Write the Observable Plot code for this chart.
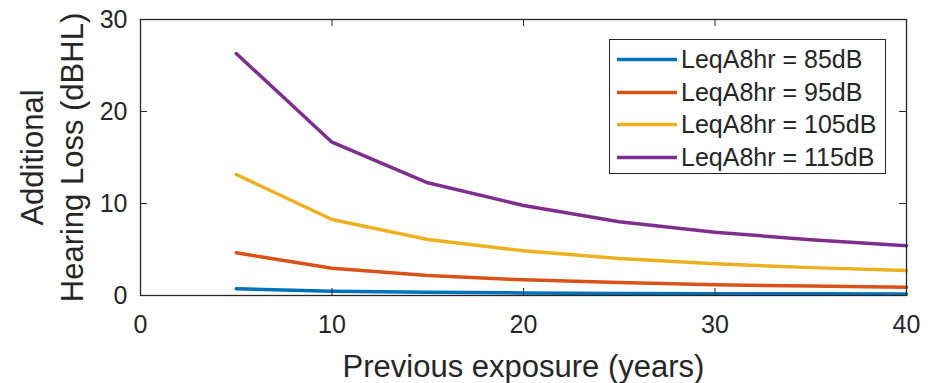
<!DOCTYPE html>
<html>
<head>
<meta charset="utf-8">
<script src="https://cdn.jsdelivr.net/npm/d3@7"></script>
<script src="https://cdn.jsdelivr.net/npm/@observablehq/plot@0.6"></script>
<style>
  body { margin: 0; background: #fff; }
  #wrap { position: relative; width: 932px; height: 383px; font-family: "Liberation Sans", Arial, Helvetica, sans-serif; }
  #legend { position: absolute; left: 609px; top: 39px; width: 277px; height: 135px; box-sizing: border-box;
            border: 1px solid #262626; background: #fff; }
  .row { position: absolute; left: 0; height: 32px; line-height: 32px; font-size: 25px; color: #262626; white-space: nowrap; }
  .row svg { position: absolute; left: 6px; top: 14px; }
  .row span { position: absolute; left: 71px; }
</style>
</head>
<body>
<div id="wrap"></div>
<script>
const years = [5, 10, 15, 20, 25, 30, 35, 40];
const loss85 = [0.73, 0.47, 0.35, 0.28, 0.23, 0.20, 0.18, 0.17];
const loss95 = [4.64, 2.97, 2.17, 1.70, 1.40, 1.17, 1.02, 0.90];
const loss105 = [13.15, 8.26, 6.09, 4.86, 4.02, 3.44, 3.03, 2.72];
const loss115 = [26.3, 16.66, 12.25, 9.78, 8.02, 6.88, 6.05, 5.40];
const seriesNames = ["LeqA8hr = 85dB", "LeqA8hr = 95dB", "LeqA8hr = 105dB", "LeqA8hr = 115dB"];
const seriesColors = ["#0072BD", "#D95319", "#EDB120", "#7E2F8E"];
const xTicks = [0, 10, 20, 30, 40];
const yTicks = [0, 10, 20, 30];
const xLabel = "Previous exposure (years)";
const yLabel = "Additional\nHearing Loss (dBHL)";

const allSeries = [loss85, loss95, loss105, loss115];
const rows = [];
allSeries.forEach((vals, i) => vals.forEach((v, j) => rows.push({series: seriesNames[i], year: years[j], loss: v})));

const ink = "#262626";
const tickLen = 7;
const chart = Plot.plot({
  width: 932,
  height: 383,
  marginLeft: 140,
  marginRight: 26,
  marginTop: 19,
  marginBottom: 88,
  style: {fontFamily: '"Liberation Sans", Arial, Helvetica, sans-serif', color: ink, background: "#fff", overflow: "visible"},
  x: {domain: [0, 40]},
  y: {domain: [0, 30]},
  color: {domain: seriesNames, range: seriesColors},
  marks: [
    Plot.line(rows, {x: "year", y: "loss", stroke: "series", z: "series", strokeWidth: 3.5, strokeLinejoin: "round"}),
    Plot.frame({stroke: ink, strokeWidth: 1.3}),
    Plot.ruleX(xTicks, {x: d => d, insetTop: 276 - tickLen, stroke: ink}),
    Plot.ruleX(xTicks, {x: d => d, insetBottom: 276 - tickLen, stroke: ink}),
    Plot.ruleY(yTicks, {y: d => d, insetRight: 766 - tickLen, stroke: ink}),
    Plot.ruleY(yTicks, {y: d => d, insetLeft: 766 - tickLen, stroke: ink}),
    Plot.axisX(xTicks, {tickSize: 0, tickPadding: 20, fontSize: 25, label: null, fill: ink}),
    Plot.axisY(yTicks, {tickSize: 0, tickPadding: 13, fontSize: 25, label: null, fill: ink}),
    Plot.text([xLabel], {frameAnchor: "bottom", dy: 81, lineAnchor: "bottom", fontSize: 31, fill: ink}),
    Plot.text([yLabel], {frameAnchor: "left", textAnchor: "middle", rotate: -90, dx: -58, lineAnchor: "bottom", lineHeight: 1.26, fontSize: 31, fill: ink})
  ]
});
const wrap = document.getElementById("wrap");
wrap.appendChild(chart);

const legend = document.createElement("div");
legend.id = "legend";
seriesNames.forEach((name, i) => {
  const row = document.createElement("div");
  row.className = "row";
  row.style.top = (3 + i * 32.7) + "px";
  row.innerHTML = `<svg width="62" height="5"><line x1="1" y1="2.5" x2="61" y2="2.5" stroke="${seriesColors[i]}" stroke-width="3.5"/></svg><span>${name}</span>`;
  legend.appendChild(row);
});
wrap.appendChild(legend);
</script>
</body>
</html>
